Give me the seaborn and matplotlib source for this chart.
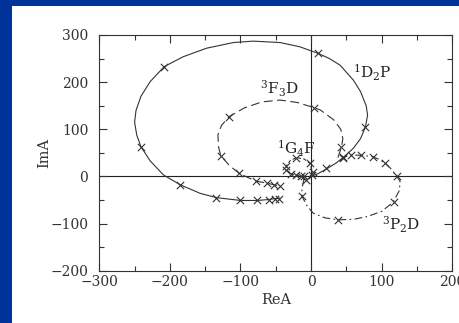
import matplotlib
matplotlib.use("Agg")
import matplotlib.pyplot as plt
from matplotlib.patches import Rectangle
from matplotlib.ticker import MultipleLocator
import seaborn as sns
import pandas as pd

# ---- data ----
# 1D2P (solid)
d2p_line_x = [0, 10, 22, 35, 48, 60, 70, 77, 80, 78, 70, 60, 41, 26, 10, -16, -44, -82, -110, -148, -181, -208,
              -228, -241, -248, -250, -247, -241, -228, -209, -185, -157, -134, -100, -76, -60, -51, -44]
d2p_line_y = [0, 6, 16, 28, 43, 60, 80, 105, 130, 150, 180, 204, 236, 250, 261, 275, 284, 287, 284, 272, 254, 233,
              201, 170, 140, 115, 88, 63, 33, 3, -18, -36, -45, -51, -51, -49, -47, -46]
d2p_mark_x = [21, 45, 76, 10, -208, -241, -185, -134, -100, -76, -60, -51, -45]
d2p_mark_y = [18, 42, 105, 261, 233, 63, -18, -45, -51, -51, -49, -47, -47]

# 3F3D (dashed)
f3d_line_x = [38, 43, 45, 42, 32, 13, 4, -20, -44, -70, -95, -116, -127, -132, -131, -128, -115, -102, -90, -78, -63, -52, -44]
f3d_line_y = [40, 62, 80, 100, 120, 141, 146, 157, 162, 158, 145, 127, 108, 88, 62, 44, 22, 7, -2, -10, -14, -18, -20]
f3d_mark_x = [43, 4, -116, -128, -102, -78, -63, -52, -44]
f3d_mark_y = [62, 146, 127, 44, 7, -10, -14, -18, -20]

# 1G4F (short dashes)
g4f_line_x = [1, 1, -2, -10, -21, -30, -35, -35, -28, -21, -15, -10, -7]
g4f_line_y = [3, 15, 28, 37, 40, 33, 22, 14, 5, 3, 1.5, 0, -7]
g4f_mark_x = [-21, -2, 1, -35, -35, -28, -21, -15, -10, -7, 3]
g4f_mark_y = [40, 28, 3, 22, 14, 5, 3, 1.5, 0, -7, 10]

# 3P2D (dash-dot)
p2d_line_x = [-10, -13, -13, -6, 3, 20, 38, 60, 80, 100, 116, 125, 126, 121, 112, 104, 95, 87, 70, 56, 45]
p2d_line_y = [-5, -25, -42, -62, -78, -88, -92, -91, -85, -74, -55, -30, -10, 1, 18, 29, 37, 42, 45, 45, 40]
p2d_mark_x = [-13, 38, 117, 121, 104, 87, 70, 56, 45]
p2d_mark_y = [-42, -92, -55, 1, 29, 42, 45, 45, 40]

x_ticks = [-300, -200, -100, 0, 100, 200]
y_ticks = [-200, -100, 0, 100, 200, 300]

labels = ["$^1$D$_2$P", "$^3$F$_3$D", "$^1$G$_4$F", "$^3$P$_2$D"]
label_x = [60, -72, -49, 101]
label_y = [220, 185, 58, -103]

# ---- figure ----
sns.set_theme(style="ticks")
plt.rcParams["font.family"] = ["DejaVu Serif"]
plt.rcParams["mathtext.fontset"] = "dejavuserif"

fig = plt.figure(figsize=(4.6, 3.23), dpi=100, facecolor="#003399")
fig.patches.append(Rectangle((12 / 460, 0), 1, 1 - 6 / 323, transform=fig.transFigure,
                             facecolor="white", edgecolor="none", zorder=-10))
ax = fig.add_axes([99.3 / 460, 1 - 270.7 / 323, 353 / 460, 235.7 / 323])
ax.set_facecolor("white")

lc = "#333333"
curves = [
    (d2p_line_x, d2p_line_y, d2p_mark_x, d2p_mark_y, "-"),
    (f3d_line_x, f3d_line_y, f3d_mark_x, f3d_mark_y, (0, (8, 4))),
    (g4f_line_x, g4f_line_y, g4f_mark_x, g4f_mark_y, (0, (3, 2))),
    (p2d_line_x, p2d_line_y, p2d_mark_x, p2d_mark_y, (0, (7, 3, 1.5, 3))),
]
for lx, ly, mx, my, ls in curves:
    sns.lineplot(data=pd.DataFrame({"x": lx, "y": ly}), x="x", y="y", sort=False, estimator=None,
                 ax=ax, color=lc, linewidth=0.8, linestyle=ls)
    sns.scatterplot(data=pd.DataFrame({"x": mx, "y": my}), x="x", y="y", ax=ax, marker="x",
                    color=lc, s=28, linewidth=0.8)

ax.axhline(0, color="#222222", linewidth=0.8, zorder=0)
ax.axvline(0, color="#222222", linewidth=0.8, zorder=0)

for t, x, y in zip(labels, label_x, label_y):
    ax.text(x, y, t, fontsize=11, color="#222222", ha="left", va="center")

ax.set_xlim(-300, 200)
ax.set_ylim(-200, 300)
ax.set_xticks(x_ticks)
ax.set_yticks(y_ticks)
ax.xaxis.set_minor_locator(MultipleLocator(50))
ax.yaxis.set_minor_locator(MultipleLocator(50))
ax.tick_params(which="both", direction="in", top=True, right=True, color="#333333", width=0.8)
ax.tick_params(which="major", length=6, labelsize=10, labelcolor="#333333")
ax.tick_params(which="minor", length=3.5)
ax.tick_params(axis="x", pad=3)
ax.tick_params(axis="y", pad=8)
for s in ax.spines.values():
    s.set_linewidth(0.8)
    s.set_color("#333333")
ax.set_xlabel("ReA", fontsize=10.5, color="#333333", labelpad=3)
ax.set_ylabel("ImA", fontsize=10.5, color="#333333", labelpad=-1)

fig.savefig("out.png", dpi=100, facecolor=fig.get_facecolor())
